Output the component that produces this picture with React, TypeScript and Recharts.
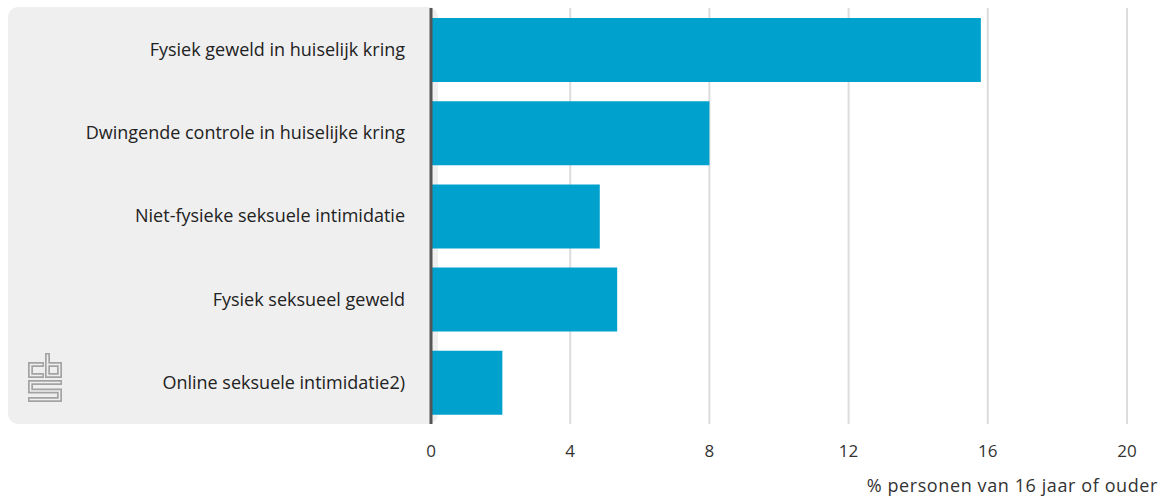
import { Bar, BarChart, CartesianGrid, XAxis, YAxis } from "recharts";

const categories = [
  "Fysiek geweld in huiselijk kring",
  "Dwingende controle in huiselijke kring",
  "Niet-fysieke seksuele intimidatie",
  "Fysiek seksueel geweld",
  "Online seksuele intimidatie2)",
];
const values = [15.8, 8.0, 4.85, 5.35, 2.05];
const xTicks = [0, 4, 8, 12, 16, 20];
const axisTitle = "% personen van 16 jaar of ouder";

const data = categories.map((name, i) => ({ name, value: values[i] }));

const FONT = "'Open Sans', sans-serif";
const W = 1166;
const H = 497;
const PANEL = "#efefef";

// cbs logo: thick grey strokes with a thin panel-coloured core = outlined look
const logoPaths = [
  "M16 11.5 H2.5 V22.5 H16",
  "M19.5 0 V22.5 H31.5 V11.5 H19.5",
  "M34 29.5 H2.5 V38 H31.5 V46.5 H0",
];
const logoCores = [
  "M14.5 11.5 H2.5 V22.5 H14.5",
  "M19.5 1.5 V22.5 H31.5 V11.5 H19.5",
  "M32.5 29.5 H2.5 V38 H31.5 V46.5 H1.5",
];

function CbsLogo() {
  return (
    <svg width={36} height={50} style={{ position: "absolute", left: 28, top: 353 }}>
      <g fill="none" strokeLinejoin="miter">
        {logoPaths.map((d) => (
          <path key={d} d={d} stroke="#a3a3a3" strokeWidth={5} />
        ))}
        {logoCores.map((d) => (
          <path key={d} d={d} stroke={PANEL} strokeWidth={1.6} />
        ))}
      </g>
    </svg>
  );
}

export default function App() {
  return (
    <div style={{ position: "absolute", left: 0, top: 0, width: W, height: H, background: "#fff" }}>
      <div
        style={{
          position: "absolute",
          left: 8,
          top: 7,
          width: 430,
          height: 417,
          background: PANEL,
          borderRadius: 10,
        }}
      />
      <CbsLogo />
      <div style={{ position: "absolute", left: 0, top: 0 }}>
        <BarChart
          width={W}
          height={H}
          data={data}
          layout="vertical"
          margin={{ top: 8, right: 39, bottom: 0, left: 8 }}
          barSize={64}
        >
          <CartesianGrid horizontal={false} stroke="#dcdcdc" strokeWidth={2} />
          <XAxis
            type="number"
            domain={[0, 20]}
            ticks={xTicks}
            axisLine={false}
            tickLine={false}
            height={73}
            tickMargin={15}
            tick={{ fill: "#333", fontSize: 17, fontFamily: FONT }}
            label={{
              content: ({ viewBox }: any) => (
                <text
                  x={viewBox.x + viewBox.width + 31}
                  y={viewBox.y + 68}
                  textAnchor="end"
                  fill="#333"
                  fontSize={18}
                  letterSpacing={0.6}
                  fontFamily={FONT}
                >
                  {axisTitle}
                </text>
              ),
            }}
          />
          <YAxis
            type="category"
            dataKey="name"
            width={423}
            axisLine={{ stroke: "#555", strokeWidth: 3 }}
            tickLine={false}
            tickMargin={20}
            tick={{ fill: "#222", fontSize: 18, fontFamily: FONT }}
          />
          <Bar dataKey="value" fill="#00a1cd" isAnimationActive={false} />
        </BarChart>
      </div>
    </div>
  );
}
